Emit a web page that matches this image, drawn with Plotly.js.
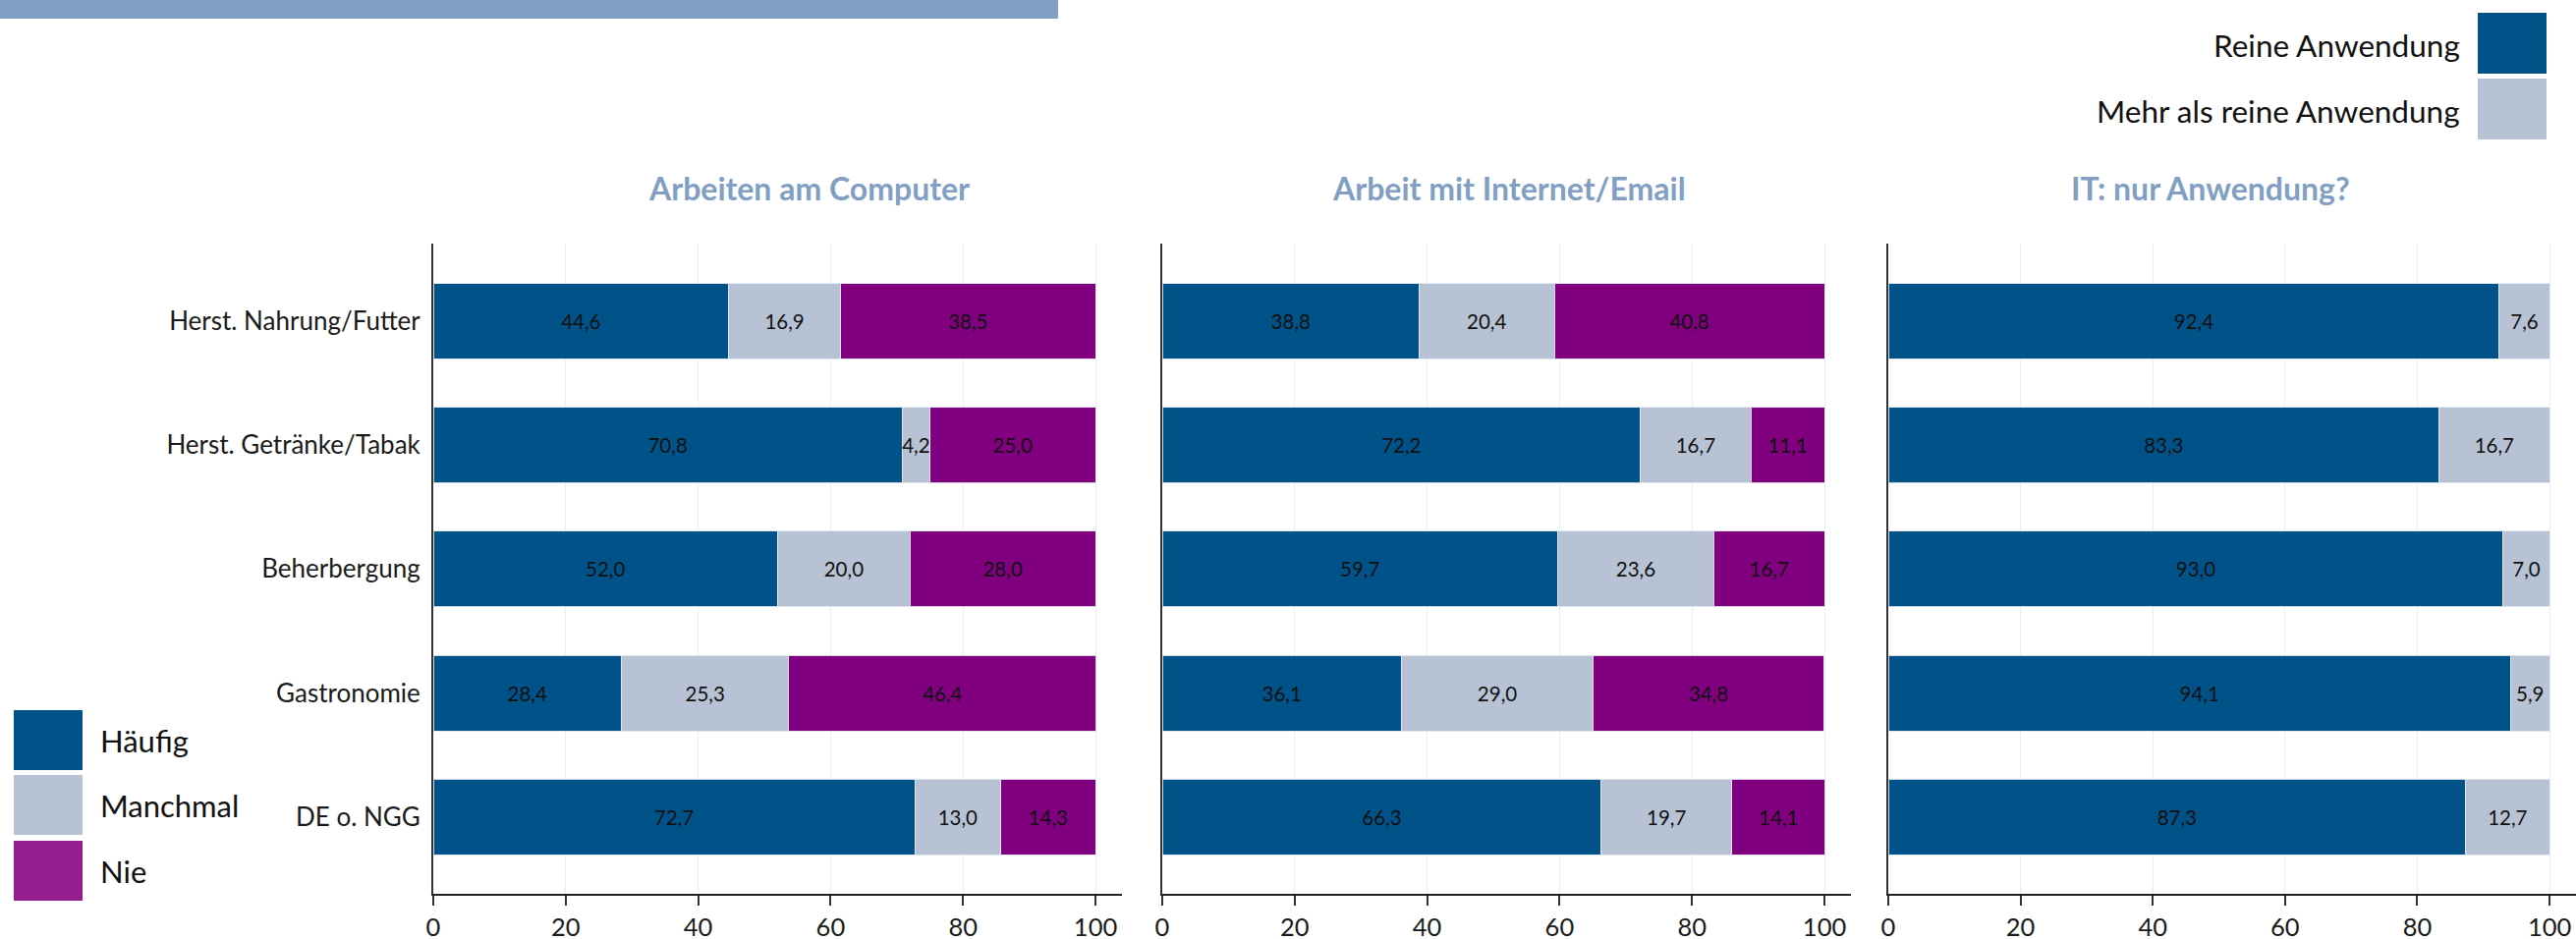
<!DOCTYPE html>
<html>
<head>
<meta charset="utf-8">
<script src="https://cdn.plot.ly/plotly-3.0.1.min.js"></script>
<style>html,body{margin:0;padding:0;background:#fff;}#chart{width:2622px;height:956px;}</style>
</head>
<body>
<div id="chart"></div>
<script>
// ---- data ----
const categories = ["Herst. Nahrung/Futter", "Herst. Getränke/Tabak", "Beherbergung", "Gastronomie", "DE o. NGG"];

const panelTitles = ["Arbeiten am Computer", "Arbeit mit Internet/Email", "IT: nur Anwendung?"];

const computerHaeufig   = [44.6, 70.8, 52.0, 28.4, 72.7];
const computerManchmal  = [16.9, 4.2, 20.0, 25.3, 13.0];
const computerNie       = [38.5, 25.0, 28.0, 46.4, 14.3];

const internetHaeufig   = [38.8, 72.2, 59.7, 36.1, 66.3];
const internetManchmal  = [20.4, 16.7, 23.6, 29.0, 19.7];
const internetNie       = [40.8, 11.1, 16.7, 34.8, 14.1];

const itReine           = [92.4, 83.3, 93.0, 94.1, 87.3];
const itMehr            = [7.6, 16.7, 7.0, 5.9, 12.7];

const freqLegend = ["Häufig", "Manchmal", "Nie"];
const itLegend   = ["Reine Anwendung", "Mehr als reine Anwendung"];
const xTicks     = [0, 20, 40, 60, 80, 100];

// ---- styles ----
const W = 2622, H = 956;
const C_DARK = "#02528a", C_LIGHT = "#b7c3d5", C_PURPLE = "#800080", C_NIE_LEG = "#951f8f";
const C_TITLE = "#819fc2";
const FONT = "Lato, 'Open Sans', sans-serif";
const px = x => x / W;
const py = y => 1 - y / H;

function barTrace(vals, color, name, xa, ya) {
  return {
    type: "bar", orientation: "h", x: vals, y: categories, name: name,
    xaxis: xa, yaxis: ya, showlegend: false,
    marker: {color: color, line: {color: "rgba(225,232,240,0.9)", width: 1}},
    texttemplate: "%{x:.1f}", textposition: "inside", insidetextanchor: "middle",
    textangle: 0, constraintext: "none",
    textfont: {family: FONT, size: 20.5, color: "#111"},
    hoverinfo: "x+y+name"
  };
}

const data = [
  barTrace(computerHaeufig, C_DARK, freqLegend[0], "x", "y"),
  barTrace(computerManchmal, C_LIGHT, freqLegend[1], "x", "y"),
  barTrace(computerNie, C_PURPLE, freqLegend[2], "x", "y"),
  barTrace(internetHaeufig, C_DARK, freqLegend[0], "x2", "y2"),
  barTrace(internetManchmal, C_LIGHT, freqLegend[1], "x2", "y2"),
  barTrace(internetNie, C_PURPLE, freqLegend[2], "x2", "y2"),
  barTrace(itReine, C_DARK, itLegend[0], "x3", "y3"),
  barTrace(itMehr, C_LIGHT, itLegend[1], "x3", "y3")
];

const yDomain = [py(910), py(248)];
function xAxis(d) {
  return {
    domain: d, range: [0, 104], tickvals: xTicks, ticks: "outside", ticklen: 10, tickwidth: 2,
    tickcolor: "#333", showline: true, linecolor: "#222", linewidth: 2,
    showgrid: true, gridcolor: "#e6eef2", gridwidth: 1, zeroline: false,
    tickfont: {family: FONT, size: 25.5, color: "#1a1a1a"}, fixedrange: true
  };
}
function yAxis(show, anchor) {
  return {
    domain: yDomain, anchor: anchor, type: "category", categoryorder: "array", categoryarray: categories,
    range: [4.62, -0.626], showline: true, linecolor: "#333", linewidth: 2, ticks: "",
    showgrid: false, zeroline: false, showticklabels: show, ticklabelstandoff: 6,
    tickfont: {family: FONT, size: 26, color: "#1a1a1a"}, fixedrange: true
  };
}

const shapes = [
  {type: "rect", xref: "paper", yref: "paper", x0: 0, x1: px(1077), y0: py(19), y1: 1, fillcolor: C_TITLE, line: {width: 0}}
];
const annotations = [];

// panel titles
const titleX = [823, 1536, 2250];
panelTitles.forEach((t, i) => annotations.push({
  text: "<b>" + t + "</b>", xref: "paper", yref: "paper", x: px(titleX[i]), y: py(192),
  xanchor: "center", yanchor: "middle", showarrow: false,
  font: {family: FONT, size: 32, color: C_TITLE}
}));

// left legend (Häufig / Manchmal / Nie)
const leftColors = [C_DARK, C_LIGHT, C_NIE_LEG];
const leftTops = [723, 789, 856];
freqLegend.forEach((t, i) => {
  shapes.push({type: "rect", xref: "paper", yref: "paper", x0: px(14), x1: px(84),
    y0: py(leftTops[i] + 61), y1: py(leftTops[i]), fillcolor: leftColors[i], line: {width: 0}});
  annotations.push({text: t, xref: "paper", yref: "paper", x: px(100), y: py(leftTops[i] + 31),
    xanchor: "left", yanchor: "middle", showarrow: false,
    font: {family: FONT, size: 31, color: "#111"}});
});

// right legend (Reine / Mehr)
const rightColors = [C_DARK, C_LIGHT];
const rightTops = [13, 80];
itLegend.forEach((t, i) => {
  shapes.push({type: "rect", xref: "paper", yref: "paper", x0: px(2522), x1: px(2592),
    y0: py(rightTops[i] + 62), y1: py(rightTops[i]), fillcolor: rightColors[i], line: {width: 0}});
  annotations.push({text: t, xref: "paper", yref: "paper", x: px(2506), y: py(rightTops[i] + 33),
    xanchor: "right", yanchor: "middle", showarrow: false,
    font: {family: FONT, size: 31.5, color: "#111"}});
});

const layout = {
  width: W, height: H, margin: {l: 0, r: 0, t: 0, b: 0, pad: 0},
  paper_bgcolor: "#fff", plot_bgcolor: "#fff",
  barmode: "stack", bargap: 0.39, separators: ",.",
  showlegend: false,
  font: {family: FONT, color: "#111"},
  xaxis: Object.assign(xAxis([px(441), px(1142)]), {anchor: "y"}),
  xaxis2: Object.assign(xAxis([px(1183), px(1884)]), {anchor: "y2"}),
  xaxis3: Object.assign(xAxis([px(1922), 1]), {anchor: "y3"}),
  yaxis: yAxis(true, "x"),
  yaxis2: yAxis(false, "x2"),
  yaxis3: yAxis(false, "x3"),
  shapes: shapes, annotations: annotations
};

Plotly.newPlot("chart", data, layout, {displayModeBar: false, staticPlot: true});
</script>
</body>
</html>
